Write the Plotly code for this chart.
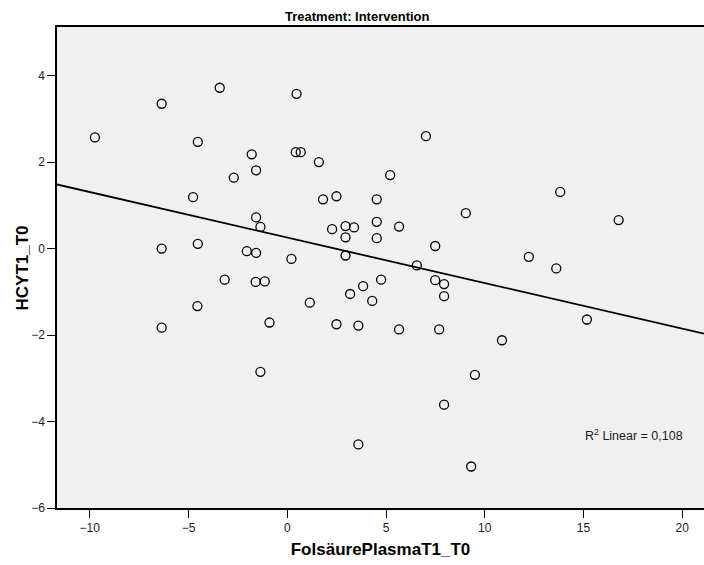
import numpy as np
import plotly.graph_objects as go

# Change in folate plasma level (T1 - T0) and change in homocysteine (T1 - T0)
folsaeure = [
    -9.74, -6.36, -3.42, 0.47, -4.53, -1.80, 0.43, 0.68, 1.60, 7.02,
    -1.58, -2.71, 5.21, -4.77, 1.81, 2.49, 4.53, 13.82, -1.58, -1.36,
    2.27, 2.95, 3.38, 4.53, 5.66, 9.04, 16.78, 2.95, 4.53, -6.36,
    -4.53, -2.05, -1.58, 0.21, 2.95, 7.49, 12.23, 6.56, 13.62, -3.17,
    -1.60, -1.14, 4.75, 7.49, 7.94, 3.84, 3.18, 1.14, 4.30, 7.94,
    -4.55, -6.36, -0.90, 2.49, 3.60, 5.66, 7.69, 10.87, 15.17, -1.36,
    9.50, 7.94, 3.60, 9.31,
]
hcy = [
    2.57, 3.35, 3.72, 3.58, 2.47, 2.18, 2.23, 2.23, 2.00, 2.60,
    1.81, 1.64, 1.70, 1.19, 1.14, 1.21, 1.14, 1.31, 0.72, 0.50,
    0.45, 0.52, 0.49, 0.62, 0.51, 0.82, 0.66, 0.26, 0.24, 0.00,
    0.11, -0.06, -0.10, -0.24, -0.16, 0.06, -0.19, -0.39, -0.46, -0.72,
    -0.77, -0.76, -0.72, -0.73, -0.82, -0.87, -1.05, -1.25, -1.21, -1.10,
    -1.33, -1.83, -1.71, -1.75, -1.78, -1.87, -1.87, -2.12, -1.64, -2.85,
    -2.92, -3.61, -4.53, -5.04,
]

x_ticks = [-10, -5, 0, 5, 10, 15, 20]
y_ticks = [-6, -4, -2, 0, 2, 4]
x_range = [-11.66, 21.1]
y_range = [-6.0, 5.125]
r2_label = "R<sup>2</sup> Linear = 0,108"

# Least-squares line across the full x range
slope, intercept = np.polyfit(folsaeure, hcy, 1)
fit_x = np.array(x_range)
fit_y = intercept + slope * fit_x

font = "Liberation Sans, Arial, sans-serif"

fig = go.Figure()
fig.add_trace(go.Scatter(
    x=fit_x, y=fit_y, mode="lines",
    line=dict(color="black", width=1.8),
    hoverinfo="skip", showlegend=False,
))
fig.add_trace(go.Scatter(
    x=folsaeure, y=hcy, mode="markers",
    marker=dict(symbol="circle-open", size=9, color="black",
                line=dict(color="black", width=1.3)),
    showlegend=False,
))

fig.add_annotation(
    x=0.97, xref="paper", y=-4.3, yref="y",
    text=r2_label, showarrow=False, xanchor="right", yanchor="middle",
    font=dict(family=font, size=12.5, color="#1a1a1a"),
)
fig.add_annotation(
    x=0.4637, xref="paper", y=1, yref="paper",
    text="<b>Treatment: Intervention</b>", showarrow=False,
    xanchor="center", yanchor="bottom", yshift=1,
    font=dict(family=font, size=13, color="black"),
)
# Vertical axis title placed beside the tick labels
fig.add_annotation(
    x=-0.0526, xref="paper", y=0.5, yref="paper",
    text="<b>HCYT1_T0</b>", showarrow=False, textangle=-90,
    xanchor="center", yanchor="middle",
    font=dict(family=font, size=17, color="black"),
)

fig.update_layout(
    width=704, height=565,
    margin=dict(l=57, r=0, t=27, b=57),
    paper_bgcolor="white", plot_bgcolor="#f0f0f0",
    font=dict(family=font, size=12, color="black"),
    xaxis=dict(
        range=x_range, tickvals=x_ticks, ticks="outside", ticklen=8,
        tickcolor="black", showgrid=False, zeroline=False,
        showline=True, linecolor="black", linewidth=1.5, mirror=True,
        tickfont=dict(family=font, size=12, color="#1a1a1a"),
        title=dict(text="<b>FolsäurePlasmaT1_T0</b>", standoff=9,
                   font=dict(family=font, size=17, color="black")),
    ),
    yaxis=dict(
        range=y_range, tickvals=y_ticks, ticks="outside", ticklen=8,
        tickcolor="black", showgrid=False, zeroline=False,
        showline=True, linecolor="black", linewidth=1.5,
        tickfont=dict(family=font, size=12, color="#1a1a1a"),
    ),
)

fig.write_html("out.html")
